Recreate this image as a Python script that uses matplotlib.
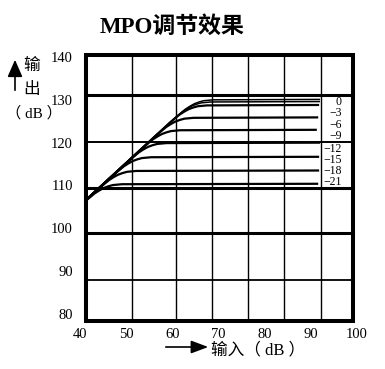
import matplotlib
matplotlib.use("Agg")
import matplotlib.pyplot as plt
from matplotlib.patches import Rectangle, FancyArrowPatch

# tick labels
x_ticks = [40, 50, 60, 70, 80, 90, 100]
y_ticks = [80, 90, 100, 110, 120, 130, 140]

# MPO curves (input dB -> output dB)
in_0a = [41.3, 60.8, 61.8, 62.8, 63.8, 64.8, 65.8, 66.8, 67.8, 68.8, 92.0]
out_0a = [106.6, 126.0, 126.9, 127.8, 128.5, 129.1, 129.5, 129.8, 129.9, 130.0, 130.1]
in_0b = [41.3, 60.3, 61.3, 62.3, 63.3, 64.3, 65.3, 66.3, 67.3, 68.3, 92.0]
out_0b = [106.6, 125.5, 126.4, 127.3, 128.0, 128.6, 129.0, 129.3, 129.4, 129.5, 129.6]
in_m3 = [41.3, 59.5, 60.5, 61.5, 62.5, 63.5, 64.5, 65.5, 66.5, 67.5, 91.8]
out_m3 = [106.6, 124.7, 125.6, 126.5, 127.2, 127.8, 128.2, 128.5, 128.6, 128.7, 128.8]
in_m6 = [41.3, 56.6, 57.6, 58.6, 59.6, 60.6, 61.6, 62.6, 63.6, 64.6, 91.6]
out_m6 = [106.6, 121.8, 122.7, 123.6, 124.3, 124.9, 125.3, 125.6, 125.7, 125.8, 125.9]
in_m9 = [41.3, 53.7, 54.7, 55.7, 56.7, 57.7, 58.7, 59.7, 60.7, 61.7, 91.3]
out_m9 = [106.6, 118.9, 119.8, 120.7, 121.4, 122.0, 122.4, 122.7, 122.8, 122.9, 123.0]
in_m12 = [41.3, 50.7, 51.7, 52.7, 53.7, 54.7, 55.7, 56.7, 57.7, 58.7, 92.0]
out_m12 = [106.6, 115.9, 116.8, 117.7, 118.4, 119.0, 119.4, 119.7, 119.8, 119.9, 120.0]
in_m15 = [41.3, 47.4, 48.4, 49.4, 50.4, 51.4, 52.4, 53.4, 54.4, 55.4, 91.8]
out_m15 = [106.6, 112.6, 113.5, 114.4, 115.1, 115.7, 116.1, 116.4, 116.5, 116.6, 116.7]
in_m18 = [41.3, 44.2, 45.2, 46.2, 47.2, 48.2, 49.2, 50.2, 51.2, 52.2, 91.8]
out_m18 = [106.6, 109.4, 110.3, 111.2, 111.9, 112.5, 112.9, 113.2, 113.3, 113.4, 113.5]
in_m21 = [41.3, 42.1, 43.1, 44.1, 45.1, 46.1, 47.1, 48.1, 49.1, 91.6]
out_m21 = [106.5, 107.2, 108.1, 108.8, 109.4, 109.8, 110.1, 110.2, 110.3, 110.4]

# curve labels on the right
curve_labels = ["0", "−3", "−6", "−9", "−12", "−15", "−18", "−21"]
label_y = [129.6, 126.9, 124.1, 121.6, 118.5, 116.0, 113.4, 110.8]

serif_cjk = ["Liberation Serif", "Noto Sans CJK SC"]

fig = plt.figure(figsize=(3.85, 3.69), dpi=100)
ax = fig.add_axes([80 / 385, 55 / 369, 277 / 385, 257 / 369])
ax.set_xlim(40, 100)
ax.set_ylim(80, 140)
for s in ax.spines.values():
    s.set_visible(False)
ax.set_xticks(x_ticks)
ax.set_yticks(y_ticks)
ax.set_xticklabels([str(v) for v in x_ticks], family="Liberation Serif", fontsize=10.5)
ax.set_yticklabels([str(v) for v in y_ticks], family="Liberation Serif", fontsize=10.5)
ax.tick_params(axis="x", length=0, pad=10)
ax.tick_params(axis="y", length=0, pad=5)

# frame and grid (the scanned grid is a bit off the labels)
x0, x1, y0, y1 = 41.3, 99.1, 78.4, 140.5
for gx in [51.2, 60.7, 68.5, 76.3, 84.1, 92.2]:
    ax.plot([gx, gx], [y0, y1], color="black", lw=1.0, clip_on=False, zorder=2)
for gy, lw in [(131.1, 2.2), (120.15, 1.4), (109.5, 2.2), (98.9, 2.2), (87.9, 1.3)]:
    ax.plot([x0, x1], [gy, gy], color="black", lw=lw, clip_on=False, zorder=2)
ax.add_patch(Rectangle((x0, y0), x1 - x0, y1 - y0, fill=False, lw=2.9,
                       edgecolor="black", clip_on=False, zorder=4))

thin = [(in_0a, out_0a), (in_0b, out_0b)]
thick = [(in_m3, out_m3), (in_m6, out_m6), (in_m9, out_m9), (in_m12, out_m12),
         (in_m15, out_m15), (in_m18, out_m18), (in_m21, out_m21)]
for xs, ys in thin:
    ax.plot(xs, ys, color="black", lw=1.1, solid_capstyle="butt", zorder=3)
for xs, ys in thick:
    ax.plot(xs, ys, color="black", lw=1.6, solid_capstyle="butt", zorder=3)

for lab, ly in zip(curve_labels, label_y):
    ax.text(96.7, ly, lab, ha="right", va="center", family="Liberation Serif",
            fontsize=8.5, zorder=5)

# title
fig.text(172 / 385, 1 - 27 / 369, "MPO调节效果", ha="center", va="center",
         family=serif_cjk, fontsize=16.5, fontweight="bold")

# axis captions with arrows
fig.add_artist(FancyArrowPatch((15 / 385, 1 - 93 / 369), (15 / 385, 1 - 57 / 369),
                               transform=fig.transFigure,
                               arrowstyle="-|>,head_length=0.8,head_width=0.35",
                               mutation_scale=13, lw=1.2, color="black"))
fig.text(32 / 385, 1 - 66 / 369, "输", ha="center", va="center", family=serif_cjk, fontsize=12)
fig.text(32 / 385, 1 - 90 / 369, "出", ha="center", va="center", family=serif_cjk, fontsize=12)
fig.text(34 / 385, 1 - 113 / 369, "（ dB ）", ha="center", va="center", family=serif_cjk, fontsize=11)

fig.add_artist(FancyArrowPatch((163 / 385, 1 - 347 / 369), (211 / 385, 1 - 347 / 369),
                               transform=fig.transFigure,
                               arrowstyle="-|>,head_length=0.8,head_width=0.3",
                               mutation_scale=13, lw=1.2, color="black"))
fig.text(211 / 385, 1 - 350 / 369, "输入（ dB ）", ha="left", va="center", family=serif_cjk, fontsize=12)

fig.savefig("out.png", dpi=100)
